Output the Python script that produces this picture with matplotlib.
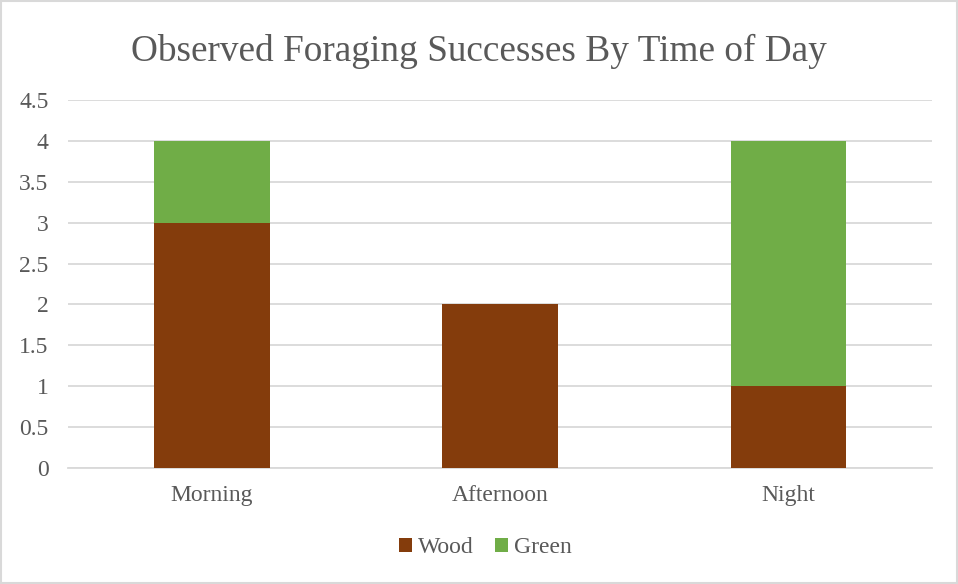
import matplotlib.pyplot as plt
import numpy as np
from matplotlib.patches import Rectangle

categories = ['Morning', 'Afternoon', 'Night']
wood = [3, 2, 1]
green = [1, 0, 3]

plt.rcParams['font.family'] = ['Liberation Serif', 'DejaVu Serif']
text_color = '#595959'
grid_color = '#D9D9D9'

fig = plt.figure(figsize=(9.58, 5.84), dpi=100)
ax = fig.add_axes([0.071, 0.1986, 0.902, 0.6302])

x = np.arange(len(categories))
ax.bar(x, wood, width=0.4, color='#843C0C', label='Wood', zorder=3)
ax.bar(x, green, width=0.4, bottom=wood, color='#70AD47', label='Green', zorder=3)

ax.set_xlim(-0.5, 2.5)
ax.set_ylim(0, 4.5)
ax.set_yticks(np.arange(0, 4.51, 0.5))
ax.set_yticklabels(['0', '0.5', '1', '1.5', '2', '2.5', '3', '3.5', '4', '4.5'])
ax.set_xticks(x)
ax.set_xticklabels(categories)
ax.yaxis.grid(True, color=grid_color, linewidth=1.3, zorder=0)
ax.tick_params(axis='both', length=0, labelsize=17, colors=text_color)
ax.tick_params(axis='x', pad=12)
ax.tick_params(axis='y', pad=14)
for side in ['top', 'right', 'left']:
    ax.spines[side].set_visible(False)
ax.spines['bottom'].set_color(grid_color)
ax.spines['bottom'].set_linewidth(1.3)

fig.text(0.5, 0.912, 'Observed Foraging Successes By Time of Day',
         ha='center', va='center', fontsize=26.8, color=text_color)

leg = fig.legend(loc='center', bbox_to_anchor=(0.507, 0.062), ncol=2, frameon=False,
                 fontsize=17, handlelength=0.55, handleheight=0.55, handletextpad=0.25,
                 columnspacing=0.9)
for t in leg.get_texts():
    t.set_color(text_color)

fig.patches.append(Rectangle((0.001, 0.001), 0.998, 0.998, transform=fig.transFigure,
                             fill=False, edgecolor=grid_color, linewidth=1.5))

fig.savefig('out.png', dpi=100)
